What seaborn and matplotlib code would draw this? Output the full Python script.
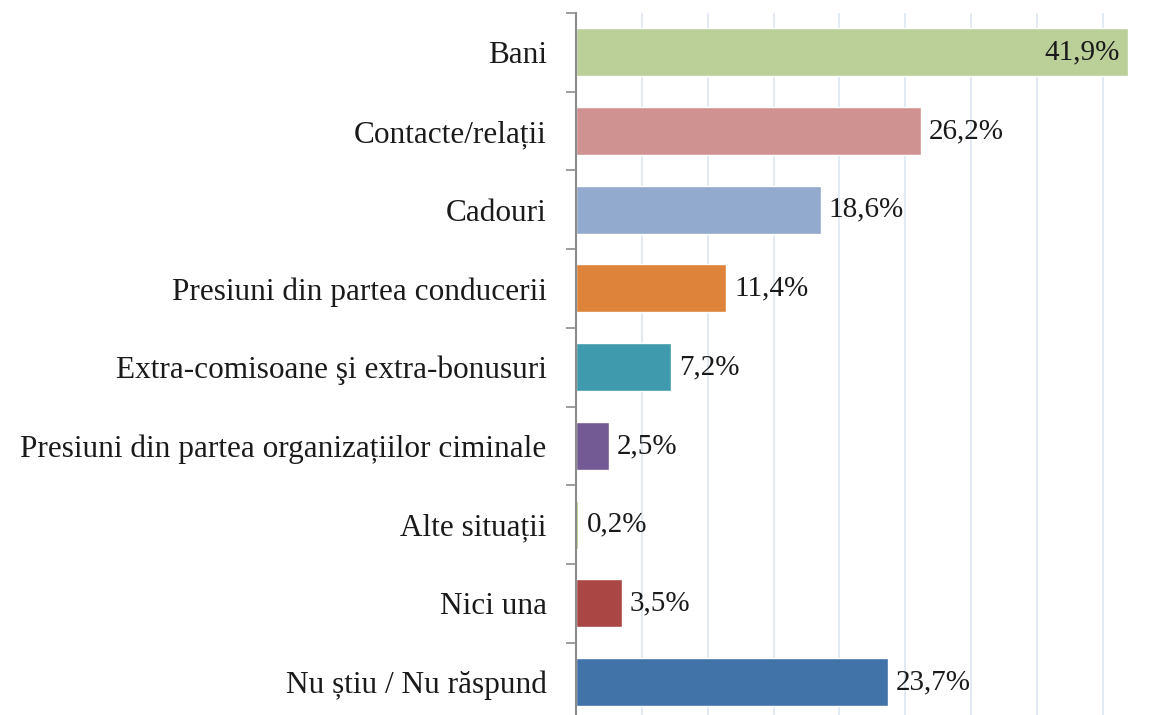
import matplotlib.pyplot as plt
import pandas as pd
import numpy as np
import seaborn as sbn
from matplotlib.ticker import FixedLocator, MultipleLocator

categorii = ["Bani", "Contacte/relații", "Cadouri", "Presiuni din partea conducerii",
             "Extra-comisoane şi extra-bonusuri", "Presiuni din partea organizațiilor ciminale",
             "Alte situații", "Nici una", "Nu știu / Nu răspund"]
procente = [41.9, 26.2, 18.6, 11.4, 7.2, 2.5, 0.2, 3.5, 23.7]
etichete = ["41,9%", "26,2%", "18,6%", "11,4%", "7,2%", "2,5%", "0,2%", "3,5%", "23,7%"]
culori = ["#BBCF98", "#CF9291", "#93AACF", "#DD843A", "#3F9AAE",
          "#735A94", "#9BBB59", "#AA4643", "#4172A8"]

dtf = pd.DataFrame({"cat": categorii, "val": procente})

sbn.set_style("white")
plt.rcParams["font.family"] = ["Liberation Serif", "DejaVu Serif"]

fig, ax = plt.subplots(figsize=(11.54, 7.15), dpi=100)
fig.subplots_adjust(left=0.499, right=0.997, top=0.982, bottom=-0.009)

sbn.barplot(data=dtf, x="val", y="cat", hue="cat", palette=culori, legend=False,
            width=0.61, ax=ax, saturation=1)

ax.set_xlim(0, 43.6)
ax.set_ylim(len(categorii) - 0.5, -0.5)
ax.xaxis.set_major_locator(MultipleLocator(5))
ax.grid(axis="x", color="#DCE6F0", linewidth=1.2)
ax.set_axisbelow(True)
ax.set_xticklabels([])
ax.tick_params(axis="x", length=0)
ax.set_xlabel("")
ax.set_ylabel("")

for s in ["top", "right", "bottom"]:
    ax.spines[s].set_visible(False)
ax.spines["left"].set_color("#8C8C8C")
ax.spines["left"].set_linewidth(1.5)

ax.tick_params(axis="y", which="major", left=False, length=0, pad=21, labelsize=22.5, labelcolor="#1a1a1a")
ax.yaxis.set_minor_locator(FixedLocator(np.arange(-0.5, len(categorii) - 1, 1.0)))
ax.tick_params(axis="y", which="minor", left=True, length=7, width=1.2, color="#8C8C8C")

for i, (v, t) in enumerate(zip(procente, etichete)):
    if v > 35:
        ax.text(v - 0.6, i, t, ha="right", va="center", fontsize=21, color="#1a1a1a")
    else:
        ax.text(v + 0.6, i, t, ha="left", va="center", fontsize=21, color="#1a1a1a")

plt.savefig("out.png", dpi=100)
